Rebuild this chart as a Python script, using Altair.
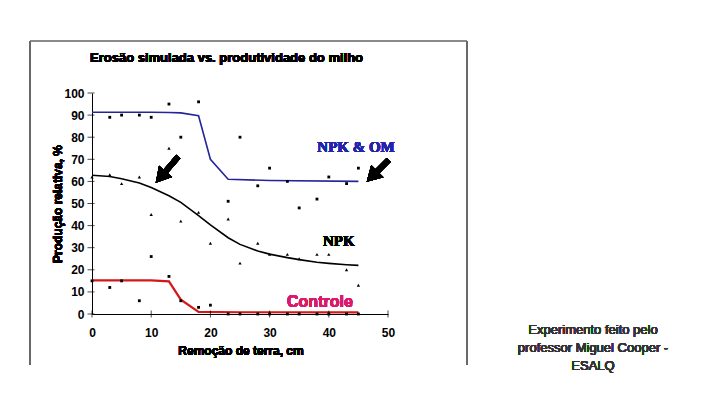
import altair as alt
import pandas as pd

# ---- data ----
om_x = [3, 5, 8, 10, 13, 15, 18, 23, 25, 28, 30, 33, 35, 38, 40, 43, 45]
om_y = [89, 90, 90, 89, 95, 80, 96, 51, 80, 58, 66, 60, 48, 52, 62, 59, 66]

npk_x = [0, 3, 5, 8, 10, 13, 15, 18, 20, 23, 25, 28, 30, 33, 35, 38, 40, 43, 45]
npk_y = [62, 63, 59, 62, 45, 75, 42, 46, 32, 43, 23, 32, 27, 27, 25, 27, 27, 20, 13]

ctl_x = [0, 3, 5, 8, 10, 13, 15, 18, 20, 23, 25, 28, 30, 33, 35, 38, 40, 43, 45]
ctl_y = [15, 12, 15, 6, 26, 17, 6, 3, 4, 0, 0, 0, 0, 0, 0, 0, 0, 0, 0]

om_fit_x = [0, 10, 13, 15, 18, 20, 23, 30, 45]
om_fit_y = [91.3, 91.3, 91.2, 91.0, 89.7, 70, 61, 60.4, 60]

npk_fit_x = [0, 3, 5, 8, 10, 13, 15, 18, 20, 23, 25, 28, 30, 33, 35, 38, 40, 43, 45]
npk_fit_y = [62.8, 62.2, 61.2, 59.3, 57.2, 53.5, 50.5, 44.5, 40.3, 34.5, 31.5,
             28.5, 27.1, 25.5, 24.6, 23.4, 22.9, 22.3, 22.0]

ctl_fit_x = [0, 10, 13, 15, 18, 25, 45]
ctl_fit_y = [15.2, 15.2, 14.8, 6.5, 1.0, 0.8, 0.7]

x_ticks = [0, 10, 20, 30, 40, 50]
y_ticks = [0, 10, 20, 30, 40, 50, 60, 70, 80, 90, 100]

title_text = "Erosão simulada vs. produtividade do milho"
y_title = "Produção relativa, %"
x_title = "Remoção de terra, cm"
note_lines = ["Experimento feito pelo", "professor Miguel Cooper -", "ESALQ"]

# ---- build tables ----
pts_om = pd.DataFrame({"x": om_x, "y": om_y})
pts_npk = pd.DataFrame({"x": npk_x, "y": npk_y})
pts_ctl = pd.DataFrame({"x": ctl_x, "y": ctl_y})
fit_om = pd.DataFrame({"x": om_fit_x, "y": om_fit_y})
fit_npk = pd.DataFrame({"x": npk_fit_x, "y": npk_fit_y})
fit_ctl = pd.DataFrame({"x": ctl_fit_x, "y": ctl_fit_y})
xt = pd.DataFrame({"x": x_ticks})
yt = pd.DataFrame({"y": y_ticks})

xs = alt.Scale(domain=[0, 50], nice=False)
ys = alt.Scale(domain=[0, 100], nice=False)
FONT = "Liberation Sans"

AX = alt.Axis(values=x_ticks, labelPadding=13, title=None)
AY = alt.Axis(values=y_ticks, labelPadding=8, title=None)

X = alt.X("x:Q", scale=xs, axis=AX)
Y = alt.Y("y:Q", scale=ys, axis=AY)

def fit_line(df, color, w):
    return alt.Chart(df).mark_line(color=color, strokeWidth=w).encode(x=X, y=Y)

def dots(df, shape, size):
    return alt.Chart(df).mark_point(shape=shape, filled=True, color="black",
                                    size=size, opacity=1).encode(x=X, y=Y)

xtick = alt.Chart(xt).mark_tick(color="black", size=7, thickness=1).encode(
    x=X, y=alt.value(221))
ytick = alt.Chart(yt).mark_tick(color="black", size=7, thickness=1).encode(
    y=Y, x=alt.value(-1))

def arrow(tx, ty, hx, hy, ang):
    shaft = alt.Chart(pts_om).mark_rule(color="black", strokeWidth=5.5).encode(
        x=alt.datum(tx, scale=xs, axis=AX), y=alt.datum(ty, scale=ys, axis=AY),
        x2=alt.datum(hx), y2=alt.datum(hy))
    head = alt.Chart(pts_om).mark_point(shape="triangle-up", filled=True, color="black",
                                        size=300, angle=ang, opacity=1).encode(
        x=alt.datum(hx, scale=xs, axis=AX), y=alt.datum(hy, scale=ys, axis=AY))
    return shaft + head

def label(text, x, y, **kw):
    return alt.Chart(pts_om).mark_text(text=text, **kw).encode(
        x=alt.datum(x, scale=xs, axis=AX), y=alt.datum(y, scale=ys, axis=AY))

def ptext(text, x, y, **kw):
    return alt.Chart(pts_om).mark_text(text=text, **kw).encode(
        x=alt.value(x), y=alt.value(y))

frame = (
    alt.Chart(pts_om).mark_rule(color="#8a8a8a", strokeWidth=1.5).encode(
        x=alt.value(-62), x2=alt.value(375), y=alt.value(-52))
    + alt.Chart(pts_om).mark_rule(color="#6a6a6a", strokeWidth=1.5).encode(
        x=alt.value(-62), y=alt.value(-52), y2=alt.value(272))
    + alt.Chart(pts_om).mark_rule(color="#6a6a6a", strokeWidth=1.5).encode(
        x=alt.value(375), y=alt.value(-52), y2=alt.value(272))
)

texts = (
    ptext(title_text, -2, -35, font=FONT, fontSize=13, fontWeight="bold",
          align="left", baseline="middle", color="black")
    + ptext(y_title, -34, 111, font=FONT, fontSize=12, fontWeight="bold", angle=270,
            align="center", baseline="middle", color="black")
    + ptext(x_title, 149, 258, font=FONT, fontSize=12, fontWeight="bold",
            align="center", baseline="middle", color="black")
    + ptext(note_lines[0], 501, 237, font=FONT, fontSize=13, fontWeight="normal",
            align="center", baseline="middle", color="#333333")
    + ptext(note_lines[1], 501, 255, font=FONT, fontSize=13, fontWeight="normal",
            align="center", baseline="middle", color="#333333")
    + ptext(note_lines[2], 501, 273, font=FONT, fontSize=13, fontWeight="normal",
            align="center", baseline="middle", color="#333333")
    + label("NPK & OM", 44.6, 75.6, font="Liberation Serif", fontSize=15,
            fontWeight="bold", align="center", baseline="middle", color="#2424a8")
    + label("NPK", 41.7, 33.0, font="Liberation Serif", fontSize=15,
            fontWeight="bold", align="center", baseline="middle", color="black")
    + label("Controle", 38.5, 5.4, font=FONT, fontSize=16, fontWeight="bold",
            align="center", baseline="middle", color="#dc1a6c")
)

chart = alt.layer(
    frame,
    fit_line(fit_om, "#25259a", 1.6),
    fit_line(fit_npk, "black", 1.6),
    fit_line(fit_ctl, "#d41818", 2.2),
    dots(pts_om, "square", 8),
    dots(pts_npk, "triangle-up", 11),
    dots(pts_ctl, "square", 8),
    xtick, ytick,
    arrow(14.58, 71.2, 11.6, 62.0, 221),
    arrow(50.1, 69.7, 47.3, 62.2, 225),
    texts,
).properties(
    width=296, height=221,
    padding={"left": 84, "top": 85, "right": 320, "bottom": 85},
    autosize=alt.AutoSizeParams(type="none"),
).configure_view(stroke=None).configure_axis(
    ticks=False, grid=False, labelFont=FONT, labelFontSize=12, labelFontWeight="bold",
    labelColor="black", labelOverlap=False, domainColor="black", domainWidth=1,
    labelFlush=False,
)

chart.save("out.html", embed_options={"renderer": "svg", "actions": False})
